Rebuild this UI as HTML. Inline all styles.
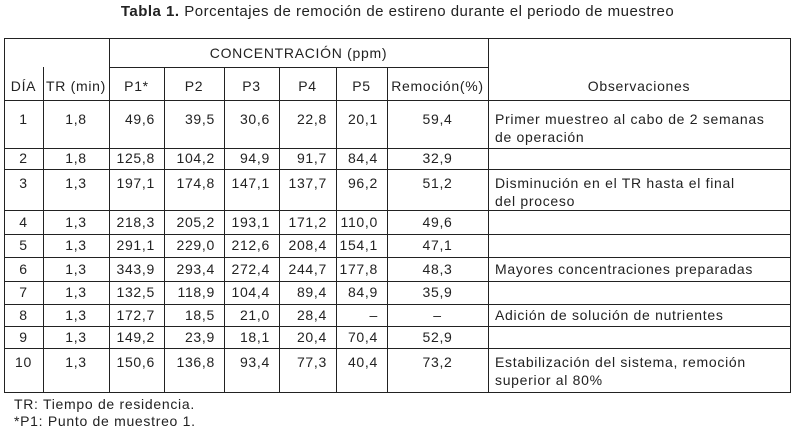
<!DOCTYPE html>
<html><head><meta charset="utf-8">
<style>
body{margin:0;background:#fff;width:795px;height:431px;position:relative;overflow:hidden;font-family:"Liberation Sans",Arial,sans-serif;color:#222;font-size:14px;letter-spacing:0.7px}
.l{position:absolute;background:#222}
.t{position:absolute;white-space:nowrap;line-height:18px}
</style></head><body>
<div class="t" style="left:0;width:795px;text-align:center;top:3px;font-size:15px;letter-spacing:0.5px"><b>Tabla 1.</b> Porcentajes de remoción de estireno durante el periodo de muestreo</div>
<div id="tbl"></div>
<div class="t" style="left:14px;top:395px">TR: Tiempo de residencia.</div>
<div class="t" style="left:14px;top:412px">*P1: Punto de muestreo 1.</div>
<script>
const days=["1","2","3","4","5","6","7","8","9","10"];
const tr=["1,8","1,8","1,3","1,3","1,3","1,3","1,3","1,3","1,3","1,3"];
const p1=["49,6","125,8","197,1","218,3","291,1","343,9","132,5","172,7","149,2","150,6"];
const p2=["39,5","104,2","174,8","205,2","229,0","293,4","118,9","18,5","23,9","136,8"];
const p3=["30,6","94,9","147,1","193,1","212,6","272,4","104,4","21,0","18,1","93,4"];
const p4=["22,8","91,7","137,7","171,2","208,4","244,7","89,4","28,4","20,4","77,3"];
const p5=["20,1","84,4","96,2","110,0","154,1","177,8","84,9","–","70,4","40,4"];
const rem=["59,4","32,9","51,2","49,6","47,1","48,3","35,9","–","52,9","73,2"];
const obs=[["Primer muestreo al cabo de 2 semanas","de operación"],[],["Disminución en el TR hasta el final","del proceso"],[],[],["Mayores concentraciones preparadas"],[],["Adición de solución de nutrientes"],[],["Estabilización del sistema, remoción","superior al 80%"]];
const X=[4,43,109,164,224,279,336,387,488,790];
const Y=[38,67,100,148,169,210,234,257,281,304,326,348,392];
const firstLine=[119,158,183,222,245,269,292,315,337,362];
const T=document.getElementById('tbl');
function line(x,y,w,h,name){const d=document.createElement('div');d.className='l';


d.style.cssText=`left:${x}px;top:${y}px;width:${w}px;height:${h}px`;T.appendChild(d);}
function txt(s,x,y,w,align,name){const d=document.createElement('div');d.className='t';


d.textContent=s;d.style.left=x+'px';d.style.top=(y-9)+'px';if(w){d.style.width=w+'px';d.style.textAlign=align;}T.appendChild(d);}
line(X[0],Y[0],X[9]-X[0]+1,1,'table-border-top');
line(X[2],Y[1],X[8]-X[2],1,'header-divider');
for(let i=2;i<Y.length;i++)line(X[0],Y[i],X[9]-X[0]+1,1,'row-divider');
line(X[0],Y[0],1,Y[12]-Y[0],'table-border-left');
line(X[9],Y[0],1,Y[12]-Y[0]+1,'table-border-right');
line(X[2],Y[0],1,Y[12]-Y[0],'column-divider');
line(X[8],Y[0],1,Y[12]-Y[0],'column-divider');
for(const i of [1,3,4,5,6,7])line(X[i],Y[1],1,Y[12]-Y[1],'column-divider');
txt('CONCENTRACIÓN (ppm)',X[2],53,X[8]-X[2],'center','concentration-header');
const hdr=['DÍA','TR (min)','P1*','P2','P3','P4','P5','Remoción(%)','Observaciones'];
hdr.forEach((h,i)=>txt(h,X[i],86,X[i+1]-X[i],'center','column-header'));
const cols=[p1,p2,p3,p4,p5];
for(let r=0;r<days.length;r++){
 const y=firstLine[r];
 txt(days[r],X[0],y,X[1]-X[0],'center','day-cell');
 txt(tr[r],X[1],y,X[2]-X[1],'center','tr-cell');
 cols.forEach((c,k)=>txt(c[r],X[2+k],y,X[3+k]-X[2+k]-9,'right','concentration-cell'));
 txt(rem[r],X[7],y,X[8]-X[7],'center','removal-cell');
 obs[r].forEach((s,j)=>txt(s,495,y+j*18,0,'left','observation-text'));
}
</script>
</body></html>
